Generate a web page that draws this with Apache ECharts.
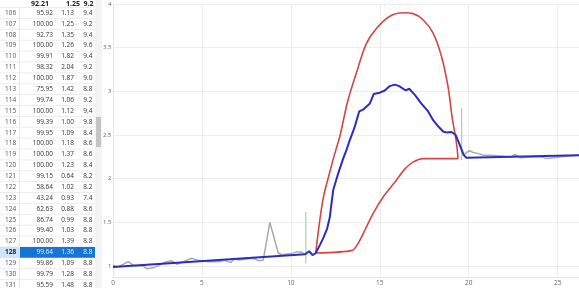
<!DOCTYPE html>
<html><head><meta charset="utf-8">
<script src="https://cdn.jsdelivr.net/npm/echarts@6/dist/echarts.min.js"></script>
<style>html,body{margin:0;padding:0;background:#fff;}#c{width:579px;height:288px;}</style>
</head><body><div id="c"></div>
<script>
// ---- table data ----
const tableHeader = ['92.21', '1.25', '9.2'];
const rowIds = [106,107,108,109,110,111,112,113,114,115,116,117,118,119,120,121,122,123,124,125,126,127,128,129,130,131];
const colA = ['95.92','100.00','92.73','100.00','99.91','98.32','100.00','75.95','99.74','100.00','99.39','99.95','100.00','100.00','100.00','99.15','58.64','43.24','62.63','86.74','99.40','100.00','99.64','99.86','99.79','95.59'];
const colB = ['1.13','1.25','1.35','1.26','1.82','2.04','1.87','1.42','1.06','1.12','1.00','1.09','1.18','1.37','1.23','0.64','1.02','0.93','0.88','0.99','1.03','1.39','1.36','1.09','1.28','1.48'];
const colC = ['9.4','9.2','9.4','9.6','9.4','9.2','9.0','8.8','9.2','9.4','9.8','8.4','8.6','8.6','8.4','8.2','8.2','7.4','8.6','8.8','8.8','8.8','8.8','8.8','8.8','8.8'];
const selectedRow = 128;

// ---- chart data ----
const rawSeries = [
  [0,1.01],[0.28,0.99],[0.86,1.05],[1.14,1.01],[1.7,1.0],[1.89,0.97],[2.27,0.98],[3.0,1.05],[3.31,1.06],[3.6,1.02],
  [4.42,1.09],[4.7,1.07],[5.4,1.05],[6.0,1.05],[6.26,1.07],[6.63,1.04],[6.8,1.08],[7.1,1.07],[7.85,1.09],[8.23,1.06],
  [8.45,1.07],[8.82,1.5],[9.29,1.15],[9.48,1.13],[9.95,1.14],[10.3,1.16],[10.6,1.16],[10.8,1.135],
  null,
  [19.72,2.27],[19.87,2.30],[20.06,2.32],[20.25,2.30],[20.5,2.29],[20.8,2.27],[21.2,2.27],[21.8,2.26],[22.4,2.25],
  [22.6,2.28],[22.9,2.24],[23.5,2.25],[24.1,2.25],[24.36,2.23],[24.8,2.24],[25.2,2.25],[25.6,2.26],[26.2,2.27]
];
const fitSeries = [
  [0,0.99],[10.8,1.135],[11.03,1.17],[11.22,1.125],[11.4,1.15],[11.63,1.24],[11.82,1.32],[12.04,1.43],[12.19,1.56],
  [12.38,1.87],[12.66,2.06],[12.94,2.23],[13.13,2.33],[13.31,2.44],[13.6,2.6],[13.84,2.77],[14.06,2.79],[14.44,2.86],
  [14.66,2.97],[15.0,2.985],[15.28,3.01],[15.56,3.06],[15.84,3.077],[16.09,3.06],[16.46,3.01],[16.65,3.03],[16.97,2.96],
  [17.34,2.86],[17.72,2.77],[18.0,2.67],[18.28,2.60],[18.56,2.54],[18.74,2.53],[19.03,2.535],[19.27,2.50],[19.49,2.39],
  [19.72,2.27],[19.87,2.24],[26.2,2.27]
];
const envelopeUpper = [
  [11.4,1.15],[11.8,1.756],[12.22,2.10],[12.53,2.33],[12.75,2.48],[13.2,2.89],[13.76,3.26],[14.25,3.55],[14.81,3.72],
  [15.56,3.86],[16.31,3.90],[16.87,3.89],[17.43,3.82],[17.99,3.67],[18.47,3.40],[18.84,3.05],[19.07,2.70],[19.31,2.41],
  [19.4,2.23]
];
const envelopeLower = [
  [11.4,1.15],[13.46,1.18],[13.78,1.26],[14.16,1.41],[14.62,1.60],[15.19,1.79],[15.94,1.985],[16.4,2.11],[16.87,2.19],
  [17.43,2.23],[19.4,2.23]
];
const markerSeries = [[10.84,1.62],[10.84,1.03],null,[19.6,2.81],[19.6,2.21]];

// ---- table graphics ----
const FONT = '"Open Sans", "Noto Sans", sans-serif';
const rowTop = 13, rowStep = 10.88;
const g = [];
g.push({type:'rect', shape:{x:0,y:0,width:95,height:288}, style:{fill:'#fff'}, z:0});
const hdrX = [40, 73, 88.5];
tableHeader.forEach((t,i)=>g.push({type:'text', x:hdrX[i], y:3.5, style:{text:t, font:'bold 7px '+FONT, fill:'#222', align:'center', verticalAlign:'middle'}, z:5}));
rowIds.forEach((id,i)=>{
  const cy = rowTop + rowStep*i;
  const sel = id === selectedRow;
  g.push({type:'line', shape:{x1:0,y1:cy-rowStep/2,x2:95,y2:cy-rowStep/2}, style:{stroke:'#ececec', lineWidth:1}, z:1});
  if (sel) {
    g.push({type:'rect', shape:{x:0,y:cy-rowStep/2,width:19.5,height:rowStep}, style:{fill:'#cfe4f8'}, z:2});
    g.push({type:'rect', shape:{x:20,y:cy-rowStep/2,width:75,height:rowStep}, style:{fill:'#1674d6'}, z:2});
  }
  g.push({type:'text', x:5, y:cy, style:{text:String(id), font:(sel?'bold ':'')+'6.5px '+FONT, fill:sel?'#222':'#555', align:'left', verticalAlign:'middle'}, z:5});
  const tc = sel ? '#e8f1fb' : '#333';
  g.push({type:'text', x:53, y:cy, style:{text:colA[i], font:'6.5px '+FONT, fill:tc, align:'right', verticalAlign:'middle'}, z:5});
  g.push({type:'text', x:74, y:cy, style:{text:colB[i], font:'6.5px '+FONT, fill:tc, align:'right', verticalAlign:'middle'}, z:5});
  g.push({type:'text', x:92.5, y:cy, style:{text:colC[i], font:'6.5px '+FONT, fill:tc, align:'right', verticalAlign:'middle'}, z:5});
});
g.push({type:'line', shape:{x1:19.5,y1:8,x2:19.5,y2:288}, style:{stroke:'#e6e6e6', lineWidth:1}, z:3});
// scrollbar
g.push({type:'rect', shape:{x:95,y:0,width:7,height:288}, style:{fill:'#f3f3f3'}, z:3});
g.push({type:'rect', shape:{x:96,y:117,width:5,height:30}, style:{fill:'#c4c4c4'}, z:4});

const chart = echarts.init(document.getElementById('c'), null, {renderer:'canvas'});
chart.setOption({
  animation:false,
  backgroundColor:'#fff',
  grid:{left:113, right:0, top:4, bottom:11},
  xAxis:{type:'value', min:0, max:26.2, interval:5,
    axisLine:{show:true, lineStyle:{color:'#e4e4e4'}}, axisTick:{show:false},
    axisLabel:{fontSize:6.5, color:'#666', margin:3, showMaxLabel:false, fontFamily:FONT},
    splitLine:{show:true, lineStyle:{color:'#ececec', width:1}}},
  yAxis:{type:'value', min:0.875, max:4, splitNumber:6,
    axisLine:{show:true, lineStyle:{color:'#e4e4e4'}}, axisTick:{show:false},
    axisLabel:{fontSize:6, color:'#666', margin:1.5, showMinLabel:false, fontFamily:FONT},
    splitLine:{show:true, lineStyle:{color:'#ececec', width:1}}},
  graphic:g,
  series:[
    {type:'line', data:rawSeries, showSymbol:false, connectNulls:false, lineStyle:{color:'#a9a9a9', width:1.5}, z:2},
    {type:'line', data:markerSeries, showSymbol:false, connectNulls:false, lineStyle:{color:'#a8d4a0', width:1.2}, z:3},
    {type:'line', data:envelopeUpper, showSymbol:false, smooth:0.35, lineStyle:{color:'#d64545', width:1.6}, z:4},
    {type:'line', data:envelopeLower, showSymbol:false, smooth:0.25, lineStyle:{color:'#d64545', width:1.6}, z:4},
    {type:'line', data:fitSeries, showSymbol:false, lineStyle:{color:'#2c2cbf', width:2}, z:5}
  ]
});
</script></body></html>
